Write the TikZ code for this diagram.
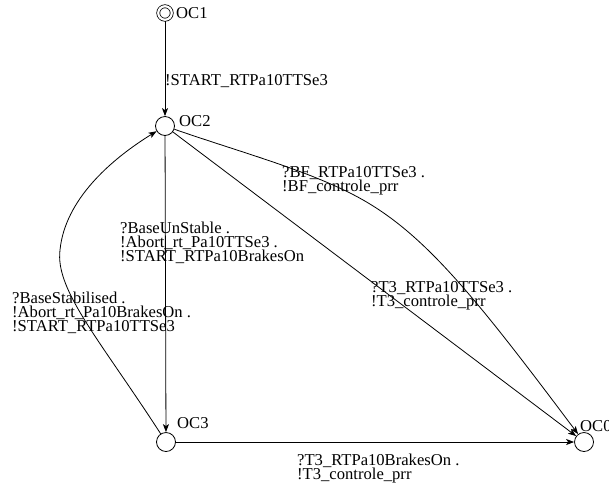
\documentclass[tikz,border=0pt]{standalone}
\usepackage{fontspec}
\setmainfont{Liberation Serif}
\usetikzlibrary{arrows.meta}
% multi-line label whose baseline is the first line's baseline
\newcommand\stack[1]{\vtop{\baselineskip=14pt\lineskiplimit=-\maxdimen\halign{##\hfil\cr#1\crcr}}}
\begin{document}
\begin{tikzpicture}[x=1pt,y=-1pt,
  every node/.style={font=\fontsize{16.6}{14}\selectfont, inner sep=0pt},
  state/.style={circle, draw, line width=0.8pt, minimum size=19pt},
  initstate/.style={circle, draw, line width=0.8pt, double, double distance=2.2pt,
                    minimum size=13.5pt, outer sep=1.6pt},
  trans/.style={line width=0.8pt, -{Stealth[length=8pt,width=6pt,inset=2pt]}},
  tag/.style={anchor=base west},
]
\useasboundingbox (0,0) rectangle (609,491);

% states
\node[initstate] (oc1) at (165,13)  {};
\node[state]     (oc2) at (165,126) {};
\node[state]     (oc3) at (166,442) {};
\node[state]     (oc0) at (584,442) {};

% state names
\node[tag] (n1) at (176,18)  {OC1};
\node[tag] (n2) at (179,126) {OC2};
\node[tag] (n3) at (177,428) {OC3};
\node[tag] (n0) at (580,431) {OC0};

% transitions
\draw[trans] (oc1) -- (oc2);
\draw[trans] (oc2) -- (oc3);
\draw[trans] (oc3) .. controls (100,340) and (55,290) .. (60,250)
                   .. controls (65,200) and (110,160) .. (oc2);
\draw[trans] (oc2) .. controls (240,152) and (300,168) .. (350,193)
                   .. controls (420,228) and (470,290) .. (oc0);
\draw[trans] (oc2) -- (oc0);
\draw[trans] (oc3) -- (oc0);

% transition labels
\node[tag] (l12) at (165,85)  {!START\_RTPa10TTSe3};
\node[tag] (l23) at (120,233) {\stack{?BaseUnStable .\cr !Abort\_rt\_Pa10TTSe3 .\cr !START\_RTPa10BrakesOn}};
\node[tag] (l32) at (12,303)  {\stack{?BaseStabilised .\cr !Abort\_rt\_Pa10BrakesOn .\cr !START\_RTPa10TTSe3}};
\node[tag] (lbf) at (282,177) {\stack{?BF\_RTPa10TTSe3 .\cr !BF\_controle\_prr}};
\node[tag] (lt3) at (371,292) {\stack{?T3\_RTPa10TTSe3 .\cr !T3\_controle\_prr}};
\node[tag] (l30) at (297,465) {\stack{?T3\_RTPa10BrakesOn .\cr !T3\_controle\_prr}};
\end{tikzpicture}
\end{document}
